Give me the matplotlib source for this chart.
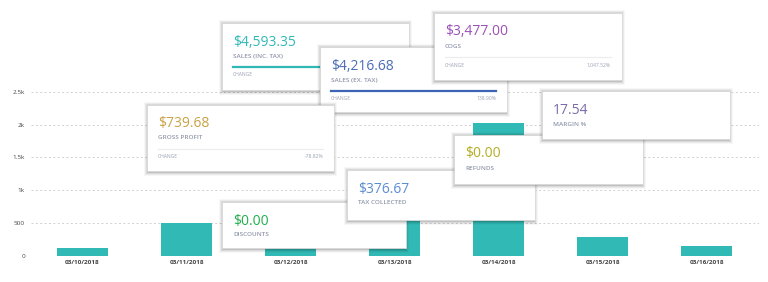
import matplotlib.pyplot as plt
from matplotlib.patches import Rectangle
from matplotlib.lines import Line2D

plt.rcParams['font.family'] = ['Open Sans', 'DejaVu Sans']

# bar chart data ---------------------------------------------------
dates = ['03/10/2018', '03/11/2018', '03/12/2018', '03/13/2018',
         '03/14/2018', '03/15/2018', '03/16/2018']
sales = [115, 497, 150, 700, 2020, 283, 145]
yticks = [0, 500, 1000, 1500, 2000, 2500]
ytick_labels = ['0', '500', '1k', '1.5k', '2k', '2.5k']

# summary cards ----------------------------------------------------
card_values = ['$4,593.35', '$4,216.68', '$3,477.00', '$739.68',
               '$0.00', '$376.67', '$0.00', '17.54']
card_titles = ['SALES (INC. TAX)', 'SALES (EX. TAX)', 'COGS', 'GROSS PROFIT',
               'DISCOUNTS', 'TAX COLLECTED', 'REFUNDS', 'MARGIN %']
card_changes = ['', '138.90%', '1,047.52%', '-78.82%', None, None, None, None]

# layout (pixels from top-left): box, colour, bar line colour
card_boxes = [(222, 23, 409, 90), (320, 47, 507, 112), (434, 13, 622, 80),
              (147, 105, 334, 171), (222, 202, 406, 248), (347, 170, 535, 220),
              (454, 135, 643, 184), (542, 91, 730, 139)]
card_colors = ['#2fb9b6', '#4a6db6', '#9a50b6', '#c9a245',
               '#22ae4b', '#5b8ecf', '#b3ad22', '#7b6ba8']
card_lines = ['#2fb9b6', '#3c63b6', '#ececec', '#ececec', None, None, None, None]

W, H = 768, 282
fig = plt.figure(figsize=(W / 100, H / 100), dpi=100)

# axes: x=0 at 82.5px, 104px per category; y=0 at 255.5px, 500 per 32.7px
y_top = 2600
ax = fig.add_axes([30.5 / W, (H - 255.5) / H, 728 / W, (y_top / 500 * 32.7) / H])
ax.bar(range(len(dates)), sales, width=0.49, color='#31bab5', zorder=2)
ax.set_xlim(-0.5, len(dates) - 0.5)
ax.set_ylim(0, y_top)
ax.set_yticks(yticks)
ax.set_yticklabels(ytick_labels)
ax.set_xticks(range(len(dates)))
ax.set_xticklabels(dates, fontweight='bold')
ax.tick_params(length=0, labelsize=4.6, colors='#444444')
ax.tick_params(axis='x', pad=3)
ax.tick_params(axis='y', pad=4)
ax.grid(axis='y', color='#d0d0d0', linestyle=(0, (2, 2.5)), linewidth=0.7)
ax.set_axisbelow(True)
for s in ax.spines.values():
    s.set_visible(False)


def fx(x):
    return x / W


def fy(y):
    return 1 - y / H


def card(i, z):
    x0, y0, x1, y1 = card_boxes[i]
    # soft shadow
    for d, a in [(4, 0.03), (3, 0.05), (2, 0.07), (1, 0.11)]:
        fig.add_artist(Rectangle((fx(x0 - d + 1), fy(y1 + d + 1)),
                                 (x1 - x0 + 2 * d - 2) / W, (y1 - y0 + 2 * d) / H,
                                 transform=fig.transFigure, facecolor='black',
                                 edgecolor='none', alpha=a, zorder=z))
    fig.add_artist(Rectangle((fx(x0), fy(y1)), (x1 - x0) / W, (y1 - y0) / H,
                             transform=fig.transFigure, facecolor='white',
                             edgecolor='#d8d8d8', linewidth=0.6, zorder=z + 0.1))
    tx = x0 + 11
    fig.text(fx(tx), fy(y0 + 19), card_values[i], fontsize=10, color=card_colors[i],
             va='center', ha='left', zorder=z + 0.2)
    fig.text(fx(tx), fy(y0 + 33), card_titles[i], fontsize=4.6, color='#8f97ab',
             fontweight='semibold', va='center', ha='left', zorder=z + 0.2)
    if card_lines[i] is not None:
        lw = 1.6 if card_lines[i] != '#ececec' else 0.8
        fig.add_artist(Line2D([fx(tx), fx(x1 - 11)], [fy(y0 + 44)] * 2,
                              transform=fig.transFigure, color=card_lines[i],
                              linewidth=lw, zorder=z + 0.2))
        fig.text(fx(tx), fy(y0 + 52), 'CHANGE', fontsize=3.6, color='#9aa1b3',
                 va='center', ha='left', zorder=z + 0.2)
        fig.text(fx(x1 - 11), fy(y0 + 52), card_changes[i], fontsize=3.6,
                 color='#9aa1b3', va='center', ha='right', zorder=z + 0.2)


# stacking order, bottom to top
for z, i in enumerate([0, 1, 2, 3, 4, 5, 6, 7]):
    card(i, 10 + z)

fig.savefig('out.png', dpi=100)
